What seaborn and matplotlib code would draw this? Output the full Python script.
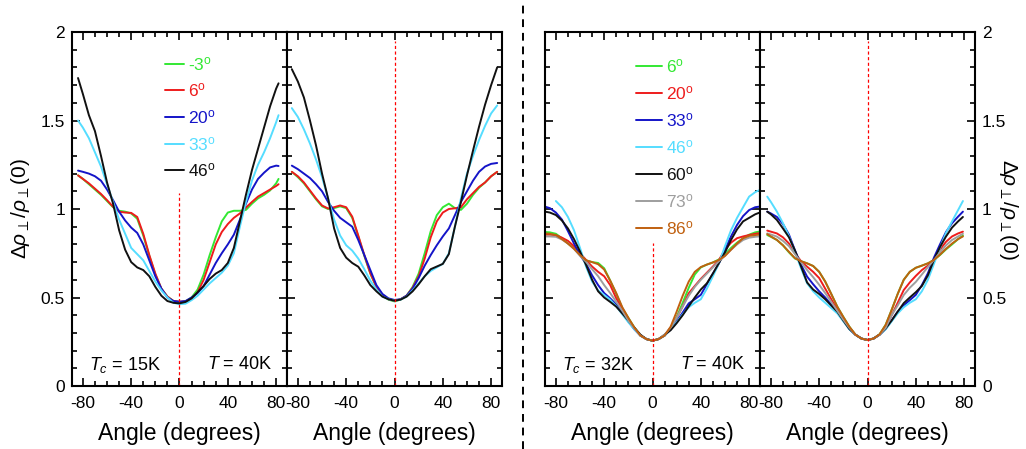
import numpy as np
import pandas as pd
import matplotlib
matplotlib.use("Agg")
import matplotlib.pyplot as plt
from matplotlib.lines import Line2D
from matplotlib.ticker import MultipleLocator
import seaborn as sns

# ---- données ----
ang1 = [-84, -80, -75, -70, -65, -60, -55, -50, -45, -40, -35, -30, -25, -20, -15, -10, -5, 0,
        5, 10, 15, 20, 25, 30, 35, 40, 45, 50, 55, 60, 65, 70, 75, 80, 82]
p1_m3 = [1.19, 1.17, 1.14, 1.11, 1.08, 1.045, 1.01, 0.99, 0.985, 0.975, 0.945, 0.85, 0.735, 0.63, 0.55, 0.505, 0.48, 0.475,
         0.478, 0.50, 0.545, 0.63, 0.74, 0.84, 0.93, 0.98, 0.99, 0.99, 0.995, 1.03, 1.06, 1.08, 1.105, 1.145, 1.17]
p1_6 = [1.19, 1.17, 1.145, 1.115, 1.085, 1.05, 1.013, 0.985, 0.98, 0.978, 0.955, 0.86, 0.74, 0.635, 0.55, 0.505, 0.48, 0.476,
        0.478, 0.495, 0.53, 0.60, 0.70, 0.80, 0.87, 0.915, 0.95, 0.975, 1.008, 1.04, 1.07, 1.09, 1.11, 1.13, 1.14]
p1_20 = [1.217, 1.21, 1.20, 1.185, 1.16, 1.11, 1.05, 0.985, 0.935, 0.895, 0.865, 0.80, 0.71, 0.62, 0.55, 0.50, 0.48, 0.476,
         0.48, 0.50, 0.525, 0.565, 0.63, 0.695, 0.75, 0.80, 0.855, 0.94, 1.03, 1.11, 1.17, 1.205, 1.235, 1.245, 1.243]
p1_33 = [1.50, 1.46, 1.40, 1.32, 1.24, 1.14, 1.04, 0.94, 0.86, 0.78, 0.745, 0.71, 0.65, 0.59, 0.54, 0.50, 0.47, 0.462,
         0.465, 0.485, 0.51, 0.545, 0.58, 0.61, 0.64, 0.68, 0.75, 0.90, 1.04, 1.16, 1.25, 1.32, 1.40, 1.49, 1.53]
p1_46 = [1.74, 1.65, 1.53, 1.44, 1.30, 1.15, 1.03, 0.88, 0.77, 0.70, 0.67, 0.655, 0.62, 0.56, 0.51, 0.48, 0.47, 0.467,
         0.475, 0.495, 0.53, 0.565, 0.605, 0.635, 0.655, 0.695, 0.78, 0.93, 1.08, 1.22, 1.34, 1.46, 1.58, 1.68, 1.71]

ang2 = [-85, -80, -75, -70, -65, -60, -55, -50, -45, -40, -35, -30, -25, -20, -15, -10, -5, 0,
        5, 10, 15, 20, 25, 30, 35, 40, 45, 50, 55, 60, 65, 70, 75, 80, 85]
p2_m3 = [1.21, 1.18, 1.145, 1.10, 1.055, 1.015, 1.0, 1.005, 1.015, 1.005, 0.95, 0.845, 0.735, 0.635, 0.56, 0.515, 0.488, 0.478,
         0.488, 0.51, 0.56, 0.635, 0.75, 0.875, 0.965, 1.01, 1.03, 1.005, 0.995, 1.03, 1.08, 1.12, 1.15, 1.185, 1.21]
p2_6 = [1.21, 1.185, 1.15, 1.105, 1.06, 1.02, 1.003, 1.01, 1.02, 1.01, 0.957, 0.85, 0.74, 0.637, 0.56, 0.515, 0.49, 0.482,
        0.49, 0.51, 0.555, 0.62, 0.72, 0.84, 0.93, 0.98, 1.0, 1.004, 1.01, 1.055, 1.09, 1.125, 1.15, 1.185, 1.21]
p2_20 = [1.245, 1.225, 1.20, 1.175, 1.14, 1.10, 1.04, 0.99, 0.95, 0.925, 0.90, 0.825, 0.74, 0.655, 0.57, 0.52, 0.495, 0.486,
         0.49, 0.51, 0.55, 0.61, 0.68, 0.74, 0.795, 0.845, 0.89, 0.965, 1.04, 1.10, 1.16, 1.21, 1.24, 1.255, 1.26]
p2_33 = [1.57, 1.52, 1.45, 1.37, 1.28, 1.18, 1.06, 0.94, 0.85, 0.795, 0.765, 0.72, 0.66, 0.595, 0.545, 0.505, 0.49, 0.482,
         0.488, 0.505, 0.54, 0.58, 0.62, 0.65, 0.67, 0.69, 0.75, 0.90, 1.06, 1.20, 1.30, 1.39, 1.47, 1.54, 1.585]
p2_46 = [1.79, 1.72, 1.63, 1.50, 1.36, 1.20, 1.06, 0.89, 0.78, 0.725, 0.695, 0.674, 0.625, 0.57, 0.535, 0.505, 0.49, 0.482,
         0.488, 0.505, 0.535, 0.575, 0.62, 0.66, 0.675, 0.69, 0.745, 0.90, 1.04, 1.19, 1.33, 1.465, 1.59, 1.70, 1.80]

ang3 = [-89, -85, -80, -75, -70, -65, -60, -55, -50, -45, -40, -35, -30, -25, -20, -15, -10, -5, 0,
        5, 10, 15, 20, 25, 30, 35, 40, 45, 50, 55, 60, 65, 70, 75, 80, 85, 88]
p3_6 = [0.87, 0.868, 0.86, 0.835, 0.805, 0.78, 0.745, 0.71, 0.70, 0.695, 0.665, 0.595, 0.52, 0.44, 0.385, 0.33, 0.285, 0.265, 0.256,
        0.265, 0.285, 0.325, 0.39, 0.47, 0.555, 0.63, 0.67, 0.686, 0.698, 0.715, 0.745, 0.78, 0.81, 0.835, 0.855, 0.868, 0.872]
p3_20 = [0.855, 0.855, 0.852, 0.838, 0.82, 0.79, 0.75, 0.712, 0.675, 0.645, 0.62, 0.57, 0.495, 0.435, 0.38, 0.325, 0.285, 0.265, 0.256,
         0.265, 0.285, 0.33, 0.385, 0.45, 0.524, 0.565, 0.605, 0.64, 0.675, 0.712, 0.77, 0.81, 0.835, 0.845, 0.853, 0.86, 0.863]
p3_33 = [1.013, 1.005, 0.98, 0.94, 0.875, 0.805, 0.74, 0.69, 0.625, 0.57, 0.525, 0.495, 0.46, 0.415, 0.365, 0.32, 0.285, 0.265, 0.256,
         0.265, 0.285, 0.32, 0.365, 0.415, 0.467, 0.49, 0.515, 0.575, 0.635, 0.693, 0.77, 0.845, 0.91, 0.96, 0.994, 1.01, 1.013]
p3_46 = [np.nan, np.nan, 1.045, 1.01, 0.955, 0.88, 0.78, 0.674, 0.59, 0.54, 0.514, 0.487, 0.45, 0.405, 0.36, 0.32, 0.285, 0.265, 0.256,
         0.265, 0.285, 0.32, 0.36, 0.405, 0.445, 0.47, 0.49, 0.55, 0.62, 0.693, 0.79, 0.88, 0.95, 1.01, 1.07, 1.095, 1.105]
p3_60 = [0.985, 0.98, 0.966, 0.935, 0.89, 0.83, 0.76, 0.684, 0.60, 0.535, 0.50, 0.475, 0.448, 0.41, 0.37, 0.33, 0.29, 0.265, 0.256,
         0.265, 0.29, 0.315, 0.355, 0.40, 0.45, 0.50, 0.545, 0.58, 0.635, 0.695, 0.755, 0.825, 0.885, 0.93, 0.95, 0.97, 0.978]
p3_73 = [0.845, 0.845, 0.843, 0.828, 0.805, 0.775, 0.735, 0.702, 0.66, 0.62, 0.57, 0.525, 0.476, 0.425, 0.37, 0.325, 0.285, 0.265, 0.256,
         0.265, 0.29, 0.33, 0.385, 0.45, 0.51, 0.56, 0.60, 0.635, 0.67, 0.705, 0.735, 0.77, 0.80, 0.825, 0.838, 0.843, 0.845]
p3_86 = [0.862, 0.86, 0.853, 0.83, 0.805, 0.775, 0.74, 0.71, 0.70, 0.688, 0.658, 0.595, 0.525, 0.445, 0.385, 0.33, 0.285, 0.265, 0.256,
         0.265, 0.285, 0.335, 0.42, 0.51, 0.59, 0.645, 0.672, 0.686, 0.698, 0.712, 0.735, 0.77, 0.805, 0.835, 0.848, 0.853, 0.855]

ang4 = [-83, -80, -75, -70, -65, -60, -55, -50, -45, -40, -35, -30, -25, -20, -15, -10, -5, 0,
        5, 10, 15, 20, 25, 30, 35, 40, 45, 50, 55, 60, 65, 70, 75, 79]
p4_6 = [0.853, 0.843, 0.825, 0.795, 0.755, 0.72, 0.705, 0.693, 0.678, 0.645, 0.59, 0.52, 0.448, 0.39, 0.335, 0.29, 0.268, 0.26,
        0.268, 0.292, 0.345, 0.43, 0.52, 0.60, 0.645, 0.668, 0.68, 0.693, 0.712, 0.74, 0.772, 0.80, 0.83, 0.85]
p4_20 = [0.878, 0.872, 0.862, 0.84, 0.805, 0.75, 0.705, 0.674, 0.645, 0.61, 0.55, 0.49, 0.43, 0.38, 0.33, 0.29, 0.268, 0.26,
         0.268, 0.29, 0.33, 0.40, 0.47, 0.542, 0.585, 0.622, 0.655, 0.68, 0.712, 0.77, 0.815, 0.845, 0.862, 0.872]
p4_33 = [0.985, 0.975, 0.955, 0.915, 0.855, 0.765, 0.685, 0.618, 0.575, 0.535, 0.50, 0.46, 0.42, 0.37, 0.322, 0.29, 0.268, 0.26,
         0.268, 0.29, 0.322, 0.37, 0.42, 0.455, 0.485, 0.515, 0.57, 0.637, 0.725, 0.80, 0.87, 0.92, 0.957, 0.985]
p4_46 = [1.07, 1.04, 0.985, 0.92, 0.845, 0.755, 0.665, 0.58, 0.535, 0.50, 0.47, 0.44, 0.41, 0.365, 0.32, 0.29, 0.268, 0.26,
         0.268, 0.29, 0.32, 0.365, 0.41, 0.445, 0.47, 0.49, 0.535, 0.60, 0.69, 0.78, 0.865, 0.93, 0.994, 1.045]
p4_60 = [0.985, 0.97, 0.938, 0.89, 0.84, 0.765, 0.675, 0.585, 0.545, 0.52, 0.49, 0.455, 0.42, 0.37, 0.322, 0.29, 0.268, 0.26,
         0.268, 0.29, 0.325, 0.37, 0.42, 0.468, 0.50, 0.53, 0.565, 0.625, 0.712, 0.785, 0.845, 0.895, 0.93, 0.955]
p4_73 = [0.862, 0.856, 0.844, 0.82, 0.79, 0.745, 0.70, 0.655, 0.615, 0.572, 0.525, 0.475, 0.425, 0.375, 0.328, 0.29, 0.268, 0.26,
         0.268, 0.29, 0.328, 0.40, 0.455, 0.514, 0.555, 0.588, 0.63, 0.672, 0.712, 0.755, 0.795, 0.825, 0.845, 0.86]
p4_86 = [0.858, 0.845, 0.825, 0.795, 0.758, 0.722, 0.705, 0.693, 0.678, 0.645, 0.59, 0.52, 0.448, 0.39, 0.335, 0.29, 0.268, 0.26,
         0.268, 0.292, 0.345, 0.43, 0.52, 0.60, 0.645, 0.668, 0.68, 0.693, 0.712, 0.742, 0.775, 0.805, 0.83, 0.845]

labels_left = ['-3', '6', '20', '33', '46']
labels_right = ['6', '20', '33', '46', '60', '73', '86']
tc_values = ['15K', '32K']
zero_line_top = [1.09, 1.95, 0.81, 1.95]

# couleurs par angle
couleurs = {'-3': '#33e833', '6': '#ee1c1c', '20': '#1414c8', '33': '#55ddff',
            '46': '#111111', '60': '#111111', '73': '#9e9e9e', '86': '#c0600f'}
couleurs_droite = {'6': '#33e833', '20': '#ee1c1c', '33': '#1414c8', '46': '#55ddff',
                   '60': '#111111', '73': '#9e9e9e', '86': '#c0600f'}

panneaux = [
    (ang1, [p1_m3, p1_6, p1_20, p1_33, p1_46], labels_left, couleurs),
    (ang2, [p2_m3, p2_6, p2_20, p2_33, p2_46], labels_left, couleurs),
    (ang3, [p3_6, p3_20, p3_33, p3_46, p3_60, p3_73, p3_86], labels_right, couleurs_droite),
    (ang4, [p4_6, p4_20, p4_33, p4_46, p4_60, p4_73, p4_86], labels_right, couleurs_droite),
]

# ---- style ----
sns.set_theme(style="ticks")
plt.rcParams['font.family'] = ['Liberation Sans', 'DejaVu Sans']
plt.rcParams['mathtext.fontset'] = 'custom'
plt.rcParams['mathtext.rm'] = 'Liberation Sans'
plt.rcParams['mathtext.it'] = 'Liberation Sans:italic'
plt.rcParams['mathtext.fallback'] = 'stixsans'
for k in ['text.color', 'axes.labelcolor', 'xtick.color', 'ytick.color', 'axes.edgecolor']:
    plt.rcParams[k] = 'black'

fig = plt.figure(figsize=(10.26, 4.49), dpi=100)
lefts = [72, 287, 545, 760]
axes = []
for i, (ang, series, labs, cols) in enumerate(panneaux):
    ax = fig.add_axes([lefts[i] / 1026, 63 / 449, 215 / 1026, 354 / 449])
    axes.append(ax)
    for lab, vals in zip(labs, series):
        df = pd.DataFrame({'angle': ang, 'val': vals})
        sns.lineplot(data=df, x='angle', y='val', ax=ax, color=cols[lab], lw=1.4,
                     label=lab + r'$^\mathrm{o}$', legend=False)
    ax.vlines(0, 0, zero_line_top[i], colors='red', linestyles=(0, (2.5, 2)), lw=0.9)
    ax.set_xlim(-89, 89)
    ax.set_ylim(0, 2)
    ax.xaxis.set_major_locator(MultipleLocator(40))
    ax.xaxis.set_minor_locator(MultipleLocator(10))
    ax.yaxis.set_major_locator(MultipleLocator(0.5))
    ax.yaxis.set_minor_locator(MultipleLocator(0.1))
    ax.tick_params(which='both', direction='in', top=True, right=True, width=1.2, colors='black')
    ax.tick_params(which='major', length=6, labelsize=12.5, pad=5)
    ax.tick_params(which='minor', length=3.5)
    ax.tick_params(axis='x', pad=7)
    ax.set_xticks([-80, -40, 0, 40, 80])
    ax.set_xticklabels(['-80', '-40', '0', '40', '80'])
    ax.set_yticks([0, 0.5, 1, 1.5, 2])
    ax.set_yticklabels(['0', '0.5', '1', '1.5', '2'])
    for sp in ax.spines.values():
        sp.set_linewidth(1.5)
        sp.set_color('black')
    ax.set_xlabel('Angle (degrees)', fontsize=16.5, labelpad=8)
    ax.set_ylabel('')
    if i in (1, 2):
        ax.tick_params(labelleft=False)
    if i == 3:
        ax.tick_params(labelleft=False, labelright=True)

ylab = r'$\Delta\rho_\perp/\rho_\perp(0)$'
axes[0].set_ylabel(ylab, fontsize=15, labelpad=6)
axes[3].yaxis.set_label_position('right')
axes[3].set_ylabel(ylab, fontsize=15, rotation=270, labelpad=10)

# légendes
leg1 = axes[0].legend(loc='upper left', bbox_to_anchor=(0.39, 0.96), frameon=False,
                      fontsize=12.5, handlelength=1.1, handletextpad=0.25, labelspacing=0.5,
                      borderpad=0, labelcolor='linecolor')
leg3 = axes[2].legend(loc='upper left', bbox_to_anchor=(0.385, 0.953), frameon=False,
                      fontsize=12.5, handlelength=1.45, handletextpad=0.25, labelspacing=0.52,
                      borderpad=0, labelcolor='linecolor')

# températures
for ax, tc in zip([axes[0], axes[2]], tc_values):
    ax.text(0.08, 0.06, r'$T_c$ = ' + tc, transform=ax.transAxes, fontsize=13, ha='left', va='center')
    ax.text(0.93, 0.06, r'$T$ = 40K', transform=ax.transAxes, fontsize=13, ha='right', va='center')

# séparation
fig.add_artist(Line2D([523 / 1026, 523 / 1026], [0, 1], transform=fig.transFigure,
                      color='black', lw=1.4, ls=(0, (4, 3))))

fig.savefig('out.png', dpi=100)
